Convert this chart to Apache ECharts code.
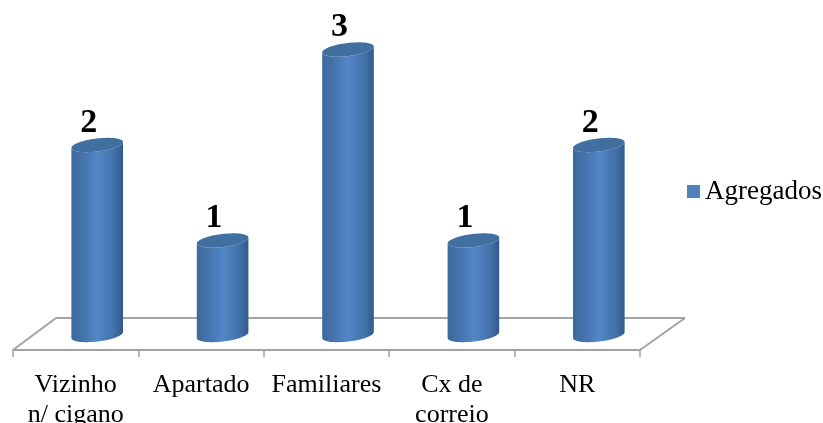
<!DOCTYPE html>
<html>
<head>
<meta charset="utf-8">
<style>html,body{margin:0;padding:0;background:#fff}#c{width:823px;height:423px}</style>
<script src="https://cdn.jsdelivr.net/npm/echarts@6/dist/echarts.min.js"></script>
</head>
<body>
<div id="c"></div>
<script>
const categories = ['Vizinho\nn/ cigano', 'Apartado', 'Familiares', 'Cx de\ncorreio', 'NR'];
const agregados = [2, 1, 3, 1, 2];
const seriesName = 'Agregados';

const FONT = '"Liberation Serif","Times New Roman",serif';
const DEPTH_X = 21.5, RX = 26, RY = 6.5, TILT = -0.12;

function ellipsePts(cx, cy, from, to, n) {
  const pts = [];
  for (let i = 0; i <= n; i++) {
    const t = from + (to - from) * i / n;
    const ex = RX * Math.cos(t), ey = RY * Math.sin(t);
    pts.push([cx + ex * Math.cos(TILT) - ey * Math.sin(TILT),
              cy + ex * Math.sin(TILT) + ey * Math.cos(TILT)]);
  }
  return pts;
}

function renderCylinder(params, api) {
  const top = api.coord([api.value(0), api.value(1)]);
  const base = api.coord([api.value(0), 0]);
  const cx = top[0] + DEPTH_X;
  const bodyPts = ellipsePts(cx, base[1] - 1, 0, Math.PI, 30).concat(ellipsePts(cx, top[1], Math.PI, 0, 30));
  const bodyFill = new echarts.graphic.LinearGradient(0, 0, 1, 0, [
    {offset: 0, color: '#3c6a9b'},
    {offset: 0.15, color: '#426fa7'},
    {offset: 0.5, color: '#5286c6'},
    {offset: 0.82, color: '#4272aa'},
    {offset: 1, color: '#325a88'}
  ]);
  return {
    type: 'group',
    children: [
      {type: 'polygon', shape: {points: bodyPts}, style: {fill: bodyFill}},
      {type: 'polygon', shape: {points: ellipsePts(cx, top[1], 0, Math.PI * 2, 60)},
       style: {fill: '#416f9f'}},
      {type: 'text', x: cx - 8.5, y: top[1] - 22,
       style: {text: String(api.value(1)), font: 'bold 34px ' + FONT, fill: '#000',
               align: 'center', verticalAlign: 'middle'}}
    ]
  };
}

function renderFloor(params, api) {
  const r = params.coordSys;
  const frontY = r.y + r.height, backY = frontY - 32;
  const line = (x1, y1, x2, y2) => ({type: 'line', shape: {x1, y1, x2, y2},
    style: {stroke: '#a3a3a3', lineWidth: 2}});
  return {
    type: 'group',
    children: [
      line(r.x, frontY, r.x + 43, backY),
      line(r.x + 43, backY, r.x + r.width + 45, backY),
      line(r.x + r.width + 45, backY, r.x + r.width, frontY)
    ]
  };
}

const chart = echarts.init(document.getElementById('c'), null, {renderer: 'canvas'});
chart.setOption({
  animation: false,
  grid: {left: 13, width: 627, top: 49.5, height: 300.5, containLabel: false, outerBoundsMode: 'none'},
  legend: {
    data: [{name: seriesName, icon: 'rect'}],
    left: 682, top: 173, itemWidth: 13, itemHeight: 13, itemGap: 5,
    textStyle: {fontFamily: FONT, fontSize: 27, color: '#000'}
  },
  xAxis: {
    type: 'category',
    data: categories,
    axisLine: {show: true, onZero: false, lineStyle: {color: '#a3a3a3', width: 2}},
    axisTick: {show: true, length: 7, lineStyle: {color: '#a3a3a3', width: 1.5}},
    axisLabel: {fontFamily: FONT, fontSize: 26, color: '#000', lineHeight: 30, margin: 20, interval: 0}
  },
  yAxis: {type: 'value', min: -0.1466, max: 3, show: false, splitLine: {show: false}},
  series: [
    {name: 'floor', type: 'custom', z: 1, silent: true, renderItem: renderFloor, data: [[0, 0]], encode: {x: 0, y: 1}},
    {name: seriesName, type: 'custom', z: 3, itemStyle: {color: '#4f81bd'}, renderItem: renderCylinder,
     data: agregados.map((v, i) => [i, v]), encode: {x: 0, y: 1}}
  ]
});
</script>
</body>
</html>
